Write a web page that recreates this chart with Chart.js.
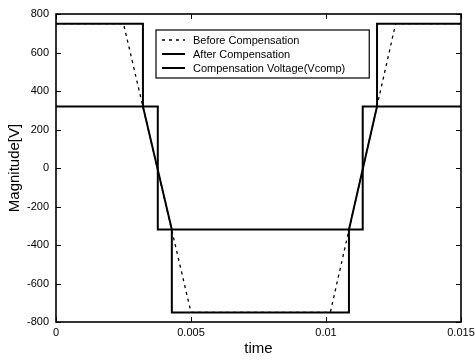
<!DOCTYPE html>
<html>
<head>
<meta charset="utf-8">
<script src="https://cdn.jsdelivr.net/npm/chart.js@4"></script>
<style>
    html, body { margin: 0; padding: 0; background: #fff; }
    #wrap { width: 475px; height: 361px; }
</style>
</head>
<body>
<div id="wrap"><canvas id="waveChart" width="475" height="361"></canvas></div>
<script>
// ================================
// VOLTAGE COMPENSATION WAVEFORMS
// ================================

const seriesLabels = ["Before Compensation", "After Compensation", "Compensation Voltage(Vcomp)"];

// before compensation (dashed)
const beforeT = [0, 0.0025, 0.0050, 0.01016, 0.01258, 0.015];
const beforeV = [750, 750, -750, -750, 750, 750];

// after compensation
const afterT = [0, 0.00322, 0.00322, 0.00429, 0.00429, 0.01085, 0.01085, 0.01189, 0.01189, 0.015];
const afterV = [750, 750, 320, -320, -750, -750, -320, 320, 750, 750];

// compensation voltage
const compT = [0, 0.00377, 0.00377, 0.01136, 0.01136, 0.015];
const compV = [320, 320, -320, -320, 320, 320];

const xTicks = [0, 0.005, 0.01, 0.015];
const yTicks = [-800, -600, -400, -200, 0, 200, 400, 600, 800];

const FONT = "'Liberation Sans', Arial, Helvetica, sans-serif";

const toPoints = (ts, vs) => ts.map((t, i) => ({ x: t, y: vs[i] }));

/* ------------------------------
   FRAME + INWARD TICKS
------------------------------ */
const framePlugin = {
    id: "frame",
    afterDatasetsDraw(chart) {
        const { ctx, chartArea: a, scales } = chart;
        const len = 5;
        ctx.save();
        ctx.strokeStyle = "#000";
        ctx.lineWidth = 1;
        ctx.beginPath();
        xTicks.forEach(v => {
            const px = Math.round(scales.x.getPixelForValue(v)) + 0.5;
            ctx.moveTo(px, a.bottom); ctx.lineTo(px, a.bottom - len);
            ctx.moveTo(px, a.top); ctx.lineTo(px, a.top + len);
        });
        yTicks.forEach(v => {
            const py = Math.round(scales.y.getPixelForValue(v)) + 0.5;
            ctx.moveTo(a.left, py); ctx.lineTo(a.left + len, py);
            ctx.moveTo(a.right, py); ctx.lineTo(a.right - len, py);
        });
        ctx.stroke();
        ctx.lineWidth = 1.6;
        ctx.strokeRect(a.left, a.top, a.right - a.left, a.bottom - a.top);
        ctx.restore();
    }
};

/* ------------------------------
   LEGEND BOX INSIDE THE AXES
------------------------------ */
const boxLegend = {
    id: "boxLegend",
    afterDraw(chart) {
        const { ctx, chartArea: a } = chart;
        const sets = chart.data.datasets;
        ctx.save();
        ctx.font = "11px " + FONT;
        const textW = Math.max(...sets.map(d => ctx.measureText(d.label).width));
        const left = a.left + 100, top = a.top + 16;
        const w = 37 + textW + 24, h = 48;
        ctx.fillStyle = "#fff";
        ctx.fillRect(left, top, w, h);
        ctx.strokeStyle = "#000";
        ctx.lineWidth = 1.2;
        ctx.strokeRect(left, top, w, h);

        sets.forEach((d, i) => {
            const y = top + 10 + i * 14;
            ctx.beginPath();
            ctx.lineWidth = d.borderWidth;
            ctx.setLineDash(d.borderDash || []);
            ctx.moveTo(left + 6, y);
            ctx.lineTo(left + 29, y);
            ctx.stroke();
            ctx.setLineDash([]);
            ctx.fillStyle = "#000";
            ctx.textBaseline = "middle";
            ctx.fillText(d.label, left + 37, y + 0.5);
        });
        ctx.restore();
    }
};

const ctx = document.getElementById("waveChart");

new Chart(ctx, {
    type: "line",
    data: {
        datasets: [
            {
                label: seriesLabels[0],
                data: toPoints(beforeT, beforeV),
                borderColor: "#000",
                borderWidth: 1.3,
                borderDash: [3, 4],
                order: 3
            },
            {
                label: seriesLabels[1],
                data: toPoints(afterT, afterV),
                borderColor: "#000",
                borderWidth: 2,
                order: 1
            },
            {
                label: seriesLabels[2],
                data: toPoints(compT, compV),
                borderColor: "#000",
                borderWidth: 2,
                order: 2
            }
        ]
    },
    options: {
        responsive: false,
        animation: false,
        events: [],
        layout: { padding: { left: 0, right: 14, top: 14, bottom: 0 } },
        elements: { point: { radius: 0 }, line: { tension: 0 } },
        plugins: { legend: { display: false }, tooltip: { enabled: false } },
        scales: {
            x: {
                type: "linear",
                min: 0,
                max: 0.015,
                afterBuildTicks: s => { s.ticks = xTicks.map(v => ({ value: v })); },
                afterFit: s => { s.height = 39; s.paddingRight = 0; s.paddingLeft = 0; },
                grid: { display: false, drawTicks: false },
                border: { display: false },
                ticks: {
                    color: "#000",
                    padding: 4,
                    maxRotation: 0,
                    font: { family: FONT, size: 11 },
                    callback: v => String(v)
                },
                title: {
                    display: true,
                    text: "time",
                    color: "#000",
                    padding: { top: 0, bottom: 3 },
                    font: { family: FONT, size: 15 }
                }
            },
            y: {
                min: -800,
                max: 800,
                afterBuildTicks: s => { s.ticks = yTicks.map(v => ({ value: v })); },
                afterFit: s => { s.width = 56; },
                grid: { display: false, drawTicks: false },
                border: { display: false },
                ticks: {
                    color: "#000",
                    padding: 7,
                    font: { family: FONT, size: 11 },
                    callback: v => String(v)
                },
                title: {
                    display: true,
                    text: "Magnitude[V]",
                    color: "#000",
                    padding: { top: 6, bottom: 0 },
                    font: { family: FONT, size: 15 }
                }
            }
        }
    },
    plugins: [framePlugin, boxLegend]
});
</script>
</body>
</html>
